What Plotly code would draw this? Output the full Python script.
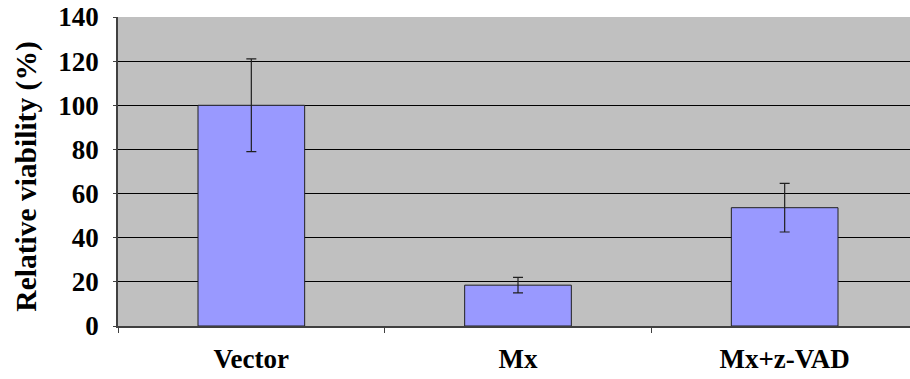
import plotly.graph_objects as go

categories = ["Vector", "Mx", "Mx+z-VAD"]
values = [100, 18.5, 53.6]
errors = [21, 3.5, 11]
y_ticks = [0, 20, 40, 60, 80, 100, 120, 140]
y_title = "Relative viability (%)"

font_family = "Liberation Serif"

fig = go.Figure()
fig.add_trace(go.Bar(
    x=categories, y=values,
    marker=dict(color="#9999FF", line=dict(color="#202020", width=1)),
    error_y=dict(type="data", array=errors, visible=True, color="#202020", thickness=1.2, width=5),
    width=0.40,
))

fig.update_layout(
    width=918, height=379,
    margin=dict(l=118, r=0, t=17, b=53, autoexpand=False),
    paper_bgcolor="white",
    plot_bgcolor="#C0C0C0",
    showlegend=False,
    font=dict(family=font_family, size=26, color="black"),
    xaxis=dict(
        showline=True, linecolor="#404040", linewidth=1.5,
        ticks="outside", tickson="boundaries", ticklen=5, tickcolor="#404040",
        tickfont=dict(family=font_family, size=27, color="black", weight="bold"),
        showgrid=False, mirror=False, automargin=False,
        ticklabelstandoff=8,
    ),
    yaxis=dict(
        range=[0, 140], tickvals=y_ticks,
        showline=True, linecolor="#404040", linewidth=1.5,
        ticks="outside", ticklen=3, tickcolor="#404040",
        showgrid=True, gridcolor="black", gridwidth=1,
        zeroline=False, automargin=False,
        ticklabelstandoff=9,
        tickfont=dict(family=font_family, size=27, color="black", weight="bold"),
    ),
    annotations=[dict(
        text=y_title, textangle=-90, showarrow=False,
        xref="paper", yref="paper", x=-0.1155, y=0.482,
        xanchor="center", yanchor="middle",
        font=dict(family=font_family, size=29.5, color="black", weight="bold"),
    )],
)

fig.write_html("out.html", config={"displayModeBar": False},
               post_script="document.body.style.margin='0';document.body.style.overflow='hidden';")
